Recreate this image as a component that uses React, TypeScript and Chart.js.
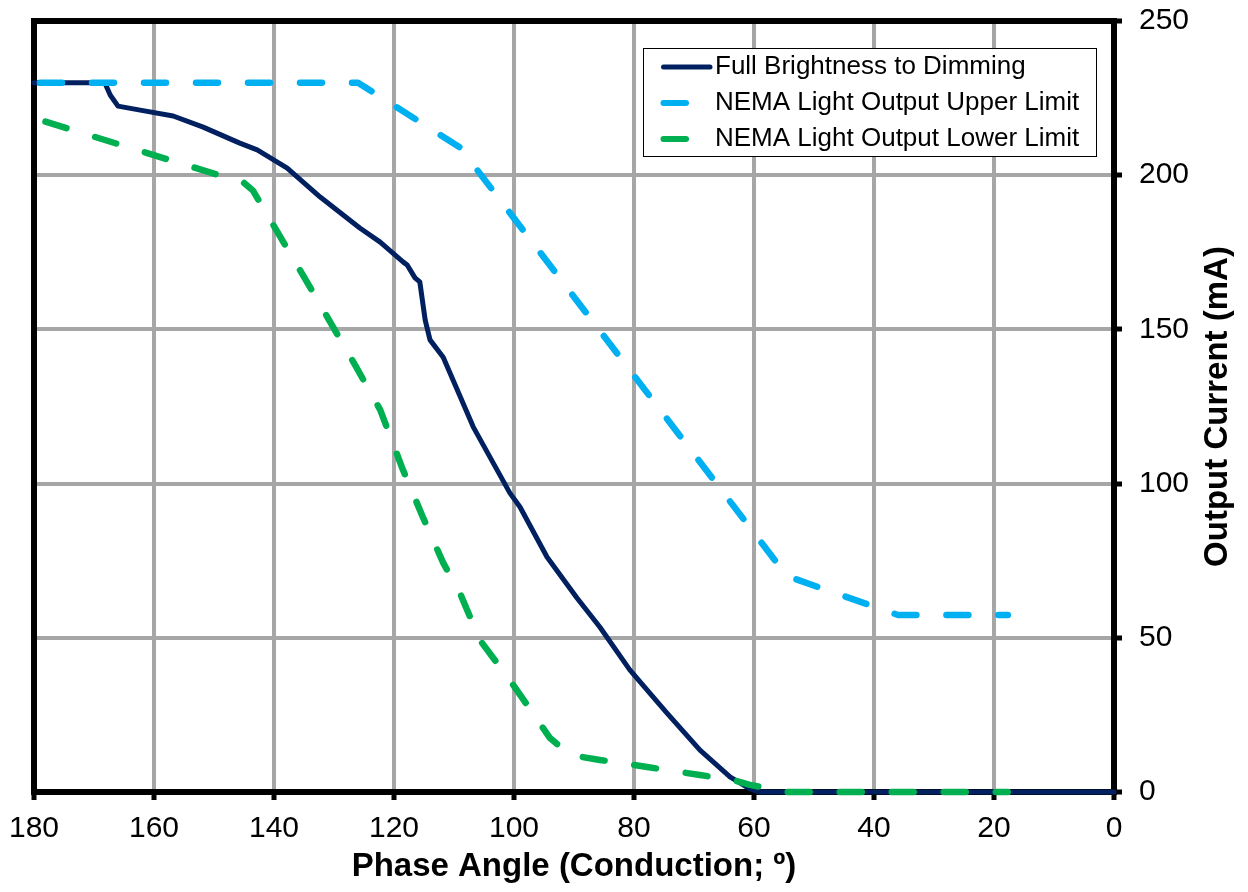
import React, { useEffect, useRef } from "react";
import { Chart, registerables } from "chart.js";

Chart.register(...registerables);

// ---- Data ----
const fullAngle = [180, 168.2, 167.3, 166, 162.3, 156.8, 151.8, 145.7, 142.8, 137.8, 132.3, 125.7, 122.3, 118.5, 117.8, 116.5, 115.7, 114.8, 114, 111.8, 106.8, 100.7, 99, 94.5, 89.5, 85.7, 80.7, 74.5, 69, 64, 60.7, 59, 0];
const fullCurrent = [230, 230, 226, 222.4, 221.1, 219.2, 215.6, 210.4, 208.2, 202.3, 192.9, 182.9, 178.3, 171.9, 170.9, 166.7, 165.4, 153, 146.6, 141, 118.4, 97, 92.4, 76.2, 62.9, 53.5, 39.6, 25.6, 13.6, 4.9, 1, 0, 0];

const upperAngle = [180, 126, 109, 54.5, 36, 17.7];
const upperCurrent = [230, 230, 209, 70, 57.4, 57.4];

const lowerAngle = [180, 145, 143.5, 134, 126.5, 122.3, 118.5, 115.2, 111.8, 109, 105.7, 100.7, 94, 90.7, 85.7, 77.8, 69, 63.5, 60.7, 54.5, 17.7];
const lowerCurrent = [218.5, 197.5, 195, 163.7, 138.5, 123.9, 104.4, 89.2, 74.3, 64.5, 49.3, 36.3, 17.5, 12, 10.4, 8.1, 5.5, 3.9, 2.3, 0, 0];

const seriesLabels = [
  "Full Brightness to Dimming",
  "NEMA Light Output Upper Limit",
  "NEMA Light Output Lower Limit",
];
const seriesColors = ["#002060", "#00B0F0", "#00B050"];

const xTitle = "Phase Angle (Conduction; \u00BA)";
const yTitle = "Output Current (mA)";

const FONT = "'Liberation Sans', Arial, sans-serif";

const toPoints = (xs: number[], ys: number[]) => xs.map((x, i) => ({ x, y: ys[i] }));

const decorPlugin = {
  id: "decor",
  beforeDatasetsDraw(chart: any) {
    const { ctx, chartArea: a } = chart;
    ctx.save();
    ctx.strokeStyle = "#000";
    ctx.lineWidth = 6;
    ctx.strokeRect(a.left, a.top, a.right - a.left, a.bottom - a.top);
    ctx.restore();
  },
  afterDraw(chart: any) {
    const { ctx, chartArea: a } = chart;
    ctx.save();
    // axis titles
    ctx.fillStyle = "#000";
    ctx.font = `bold 33px ${FONT}`;
    ctx.textAlign = "center";
    ctx.textBaseline = "alphabetic";
    ctx.fillText(xTitle, (a.left + a.right) / 2, 876);
    ctx.save();
    ctx.translate(1227, (a.top + a.bottom) / 2);
    ctx.rotate(-Math.PI / 2);
    ctx.fillText(yTitle, 0, 0);
    ctx.restore();

    // legend
    const bx = 643.5, by = 48.5, bw = 453, bh = 108;
    ctx.fillStyle = "#fff";
    ctx.fillRect(bx, by, bw, bh);
    ctx.strokeStyle = "#000";
    ctx.lineWidth = 1;
    ctx.strokeRect(bx, by, bw, bh);
    const rows = [67, 103, 139];
    ctx.font = `26px ${FONT}`;
    ctx.textAlign = "left";
    ctx.textBaseline = "middle";
    ctx.lineCap = "round";
    rows.forEach((ry, i) => {
      ctx.strokeStyle = seriesColors[i];
      ctx.lineWidth = i === 0 ? 5 : 6;
      ctx.beginPath();
      ctx.moveTo(663.5, ry);
      ctx.lineTo(i === 0 ? 710 : 686, ry);
      ctx.stroke();
      ctx.fillStyle = "#000";
      ctx.fillText(seriesLabels[i], 715, ry);
    });
    ctx.restore();
  },
};

export default function App() {
  const canvasRef = useRef<HTMLCanvasElement | null>(null);

  useEffect(() => {
    if (!canvasRef.current) return;
    const chart = new Chart(canvasRef.current, {
      type: "line",
      data: {
        datasets: [
          {
            label: seriesLabels[0],
            data: toPoints(fullAngle, fullCurrent),
            borderColor: seriesColors[0],
            backgroundColor: seriesColors[0],
            borderWidth: 5,
            pointRadius: 0,
            tension: 0,
            borderJoinStyle: "round",
            borderCapStyle: "round",
            clip: false,
            order: 3,
          } as any,
          {
            label: seriesLabels[1],
            data: toPoints(upperAngle, upperCurrent),
            borderColor: seriesColors[1],
            backgroundColor: seriesColors[1],
            borderWidth: 6.5,
            borderDash: [22, 30],
            borderDashOffset: 46,
            pointRadius: 0,
            tension: 0,
            borderJoinStyle: "round",
            borderCapStyle: "round",
            clip: false,
            order: 2,
          } as any,
          {
            label: seriesLabels[2],
            data: toPoints(lowerAngle, lowerCurrent),
            borderColor: seriesColors[2],
            backgroundColor: seriesColors[2],
            borderWidth: 6.5,
            borderDash: [22, 30],
            borderDashOffset: 40,
            pointRadius: 0,
            tension: 0,
            borderJoinStyle: "round",
            borderCapStyle: "round",
            clip: false,
            order: 1,
          } as any,
        ],
      },
      options: {
        responsive: false,
        animation: false,
        events: [],
        layout: { padding: { left: 34, top: 21, right: 0, bottom: 0 } },
        plugins: {
          legend: { display: false },
          tooltip: { enabled: false },
          title: { display: false },
        },
        scales: {
          x: {
            type: "linear",
            position: "bottom",
            min: 0,
            max: 180,
            reverse: true,
            afterFit: (s: any) => {
              s.height = 100;
              s.paddingLeft = 0;
              s.paddingRight = 0;
            },
            ticks: {
              stepSize: 20,
              color: "#000",
              padding: 11,
              font: { family: FONT, size: 30 },
              maxRotation: 0,
            },
            grid: {
              color: "#A6A6A6",
              lineWidth: 4,
              tickLength: 8,
              tickColor: "#000",
              tickWidth: 5,
            },
            border: { display: false },
          },
          y: {
            type: "linear",
            position: "right",
            min: 0,
            max: 250,
            afterFit: (s: any) => {
              s.width = 134;
              s.paddingTop = 0;
              s.paddingBottom = 0;
            },
            ticks: {
              stepSize: 50,
              color: "#000",
              padding: 17,
              font: { family: FONT, size: 30 },
            },
            grid: {
              color: "#A6A6A6",
              lineWidth: 4,
              tickLength: 8,
              tickColor: "#000",
              tickWidth: 5,
            },
            border: { display: false },
          },
        },
      } as any,
      plugins: [decorPlugin],
    });
    return () => chart.destroy();
  }, []);

  return (
    <div style={{ position: "absolute", left: 0, top: 0, width: 1248, height: 892, background: "#fff" }}>
      <canvas ref={canvasRef} width={1248} height={892} style={{ display: "block" }} />
    </div>
  );
}
